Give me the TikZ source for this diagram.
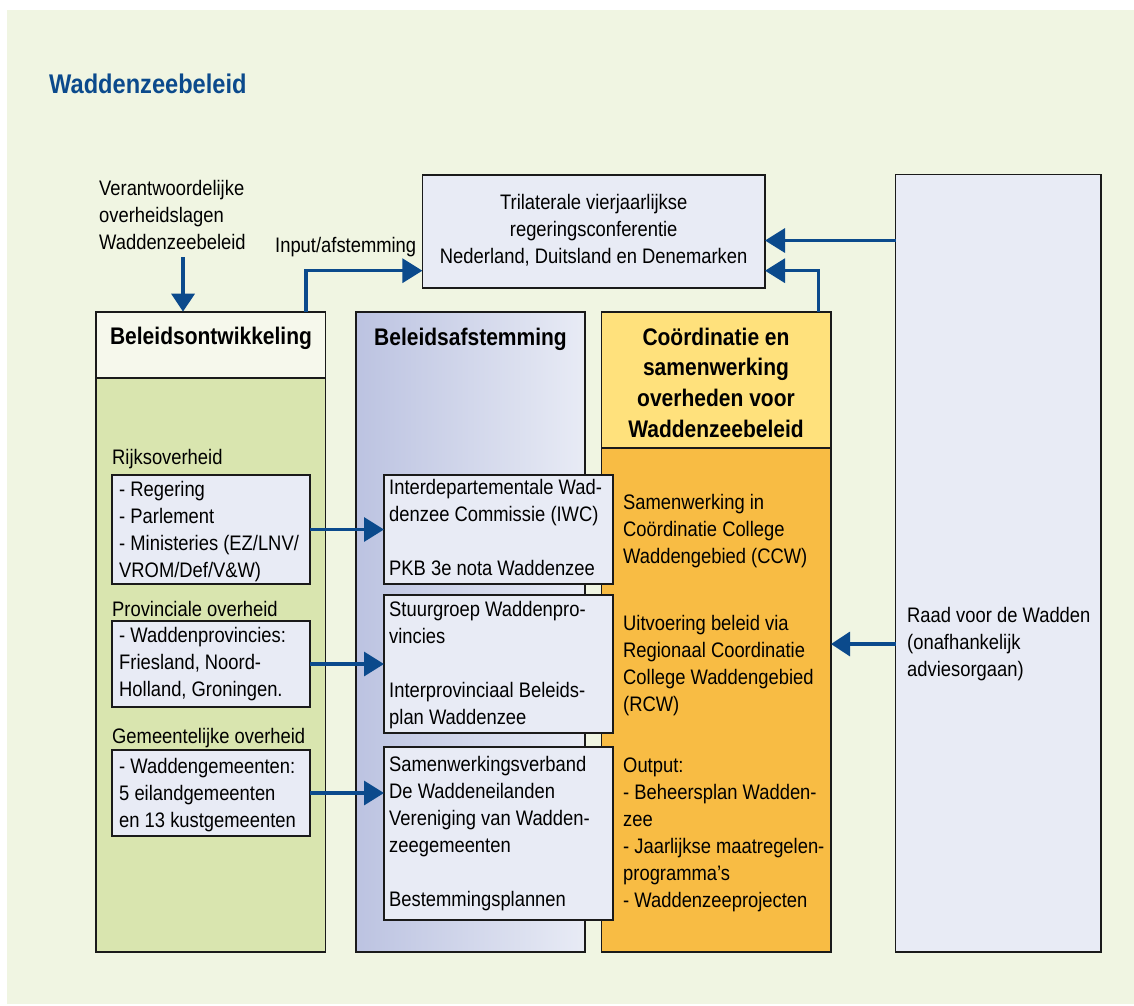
\documentclass[tikz,border=0pt]{standalone}
\usepackage{fontspec}
\setmainfont{Liberation Sans}[FakeStretch=0.875]
\usetikzlibrary{arrows.meta}
\definecolor{bgc}{HTML}{F0F5E2}
\definecolor{navy}{HTML}{0B4A8C}
\definecolor{greenhead}{HTML}{F6F8EC}
\definecolor{greenbody}{HTML}{D9E5AF}
\definecolor{lav}{HTML}{E8EBF5}
\definecolor{lavdark}{HTML}{BCC3E1}
\definecolor{yellowhead}{HTML}{FFE17C}
\definecolor{orangebody}{HTML}{F8BC44}
\definecolor{edge}{HTML}{1A1A1A}
\begin{document}
\begin{tikzpicture}[x=1pt,y=-1pt,
  frame/.style={draw=edge, line width=1.7pt, inner sep=0pt, outer sep=0pt, anchor=north west},
  bodytext/.style={font=\fontsize{21}{27}\selectfont, inner sep=0pt, align=left, anchor=north west, text=black},
  headtext/.style={font=\fontsize{24}{30.8}\selectfont\bfseries, inner sep=0pt, text=black},
  conn/.style={draw=navy, line width=3.3pt, -{Triangle[length=20pt,width=24pt]}},
]
\useasboundingbox (0,0) rectangle (1134,1005);
\fill[white] (0,0) rectangle (1134,1005);
\fill[bgc] (7,10) rectangle (1134,1004);

% title
\node[anchor=base west, font=\fontsize{27}{32}\selectfont\bfseries, text=navy, inner sep=0pt] (title) at (49,93.3) {Waddenzeebeleid};

% columns
\node[frame, fill=greenhead, minimum width=229.2pt, minimum height=66.3pt] (ontwhead) at (96.3,311.7) {};
\node[frame, fill=greenbody, minimum width=229.2pt, minimum height=573.7pt] (ontwbody) at (96.3,378) {};
\node[frame, left color=lavdark, right color=lav, minimum width=229.2pt, minimum height=640pt] (afst) at (355.8,311.7) {};
\node[frame, fill=yellowhead, minimum width=229.5pt, minimum height=136.3pt] (coordhead) at (601.5,311.7) {};
\node[frame, fill=orangebody, minimum width=229.5pt, minimum height=503.7pt] (coordbody) at (601.5,448) {};
\node[frame, fill=lav, minimum width=205.5pt, minimum height=777.5pt] (raad) at (895.5,174.5) {};
\node[frame, fill=lav, minimum width=342.6pt, minimum height=113pt, align=center, font=\fontsize{21}{27.3}\selectfont, text=black] (tril) at (422.4,174.7)
  {\strut Trilaterale vierjaarlijkse\\regeringsconferentie\\Nederland, Duitsland en Denemarken\strut};

% headers
\node[headtext, anchor=base] (ontwtitle) at (211,344.3) {Beleidsontwikkeling};
\node[headtext, anchor=base] (afsttitle) at (470.5,345) {Beleidsafstemming};
\node[headtext, anchor=north, align=center] (coordtitle) at (716,323.4)
  {\strut Coördinatie en\\samenwerking\\overheden voor\\Waddenzeebeleid};

% top-left text
\node[bodytext] (verant) at (99,176.1) {\strut Verantwoordelijke\\overheidslagen\\Waddenzeebeleid};
\node[bodytext, anchor=base west] (inputlbl) at (275,252) {Input/afstemming};

% left column content
\node[bodytext, anchor=base west] (rijkslbl) at (112,464.5) {Rijksoverheid};
\node[frame, fill=lav, minimum width=198pt, minimum height=109.6pt] (rijks) at (112,474.7) {};
\node[bodytext] (rijkstxt) at (119,477.6) {\strut - Regering\\- Parlement\\- Ministeries (EZ/LNV/\\VROM/Def/V\&W)};

\node[bodytext, anchor=base west] (provlbl) at (112,616.5) {Provinciale overheid};
\node[frame, fill=lav, minimum width=198pt, minimum height=86pt] (prov) at (112,621) {};
\node[bodytext] (provtxt) at (119,623.1) {\strut - Waddenprovincies:\\Friesland, Noord-\\Holland, Groningen.};

\node[bodytext, anchor=base west] (gemlbl) at (112,743.7) {Gemeentelijke overheid};
\node[frame, fill=lav, minimum width=198pt, minimum height=86pt] (gem) at (112,750) {};
\node[bodytext] (gemtxt) at (119,754.1) {\strut - Waddengemeenten:\\5 eilandgemeenten\\en 13 kustgemeenten};

% middle column content
\node[frame, fill=lav, minimum width=229pt, minimum height=109.6pt] (iwc) at (384,474.7) {};
\node[bodytext] (iwctxt) at (389,475.8) {\strut Interdepartementale Wad-\\denzee Commissie (IWC)\\[27pt]PKB 3e nota Waddenzee};

\node[frame, fill=lav, minimum width=229pt, minimum height=137.7pt] (stuur) at (384,595) {};
\node[bodytext] (stuurtxt) at (389,597.1) {\strut Stuurgroep Waddenpro-\\vincies\\[27pt]Interprovinciaal Beleids-\\plan Waddenzee};

\node[frame, fill=lav, minimum width=229pt, minimum height=173.3pt] (samen) at (384,746.7) {};
\node[bodytext] (samentxt) at (389,752.1) {\strut Samenwerkingsverband\\De Waddeneilanden\\Vereniging van Wadden-\\zeegemeenten\\[27pt]Bestemmingsplannen};

% orange column content
\node[bodytext] (coordtxt) at (623,490.7) {\strut Samenwerking in\\Coördinatie College\\Waddengebied (CCW)\\[39.8pt]Uitvoering beleid via\\Regionaal Coordinatie\\College Waddengebied\\(RCW)\\[33.6pt]Output:\\- Beheersplan Wadden-\\zee\\- Jaarlijkse maatregelen-\\programma’s\\- Waddenzeeprojecten};

% right column content
\node[bodytext] (raadtxt) at (907,603.8) {\strut Raad voor de Wadden\\(onafhankelijk\\adviesorgaan)};

% connectors
\coordinate (vstart) at (183,257);
\draw[conn, -{Triangle[length=18pt,width=23pt]}] (vstart) -- (vstart |- ontwhead.north);
\draw[conn] ([xshift=-19.5pt]ontwhead.north east) |- ([yshift=-39.5pt]tril.west);
\draw[conn] ([xshift=-12.5pt]coordhead.north east) |- ([yshift=-39.5pt]tril.east);
\draw[conn] ([yshift=-9.3pt]tril.east -| raad.west) -- ([yshift=-9.3pt]tril.east);
\draw[conn, -{Triangle[length=19pt,width=24pt]}] ([yshift=-80.75pt]raad.west) -- ([yshift=-80.75pt]raad.west -| coordbody.east);
\draw[conn] (rijks.east) -- (iwc.west);
\draw[conn] (prov.east) -- (prov.east -| stuur.west);
\draw[conn] (gem.east) -- (gem.east -| samen.west);
\end{tikzpicture}
\end{document}
